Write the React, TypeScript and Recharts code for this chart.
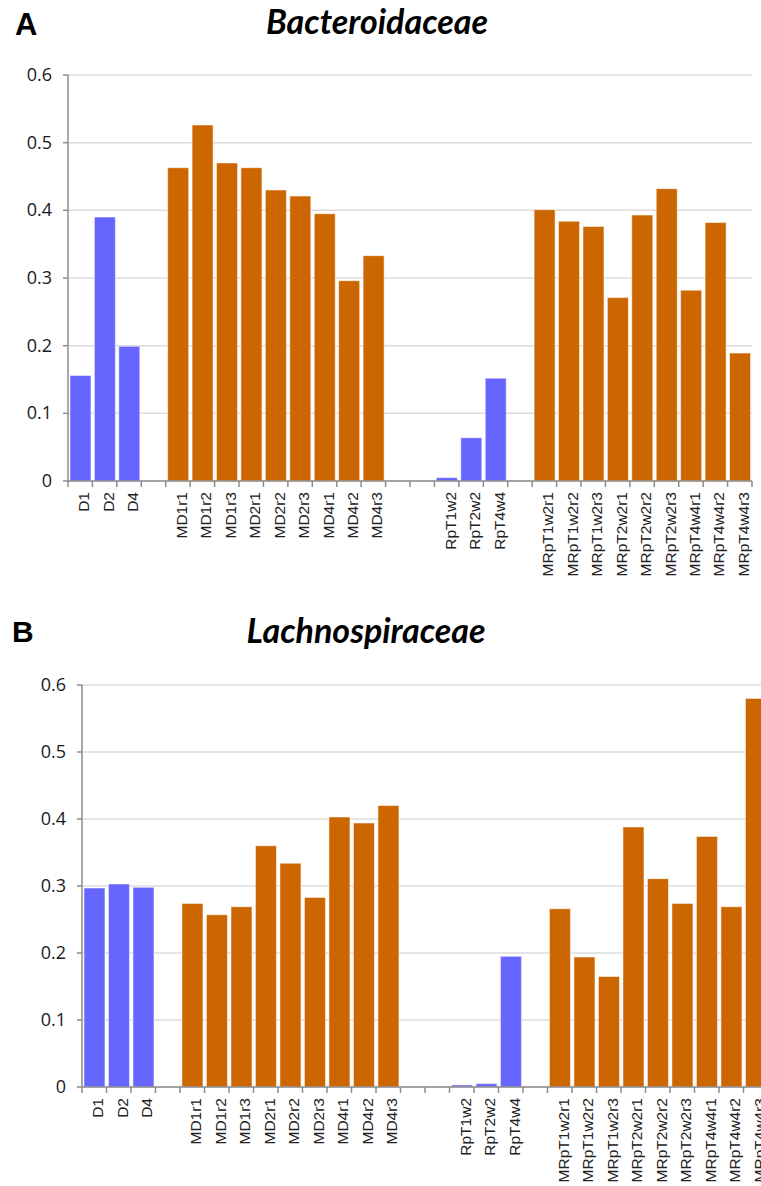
import React from 'react'
import { BarChart, Bar, Cell, XAxis, YAxis, CartesianGrid } from 'recharts'

const categories = [
  'D1', 'D2', 'D4', '',
  'MD1r1', 'MD1r2', 'MD1r3', 'MD2r1', 'MD2r2', 'MD2r3', 'MD4r1', 'MD4r2', 'MD4r3', '', '',
  'RpT1w2', 'RpT2w2', 'RpT4w4', '',
  'MRpT1w2r1', 'MRpT1w2r2', 'MRpT1w2r3', 'MRpT2w2r1', 'MRpT2w2r2', 'MRpT2w2r3', 'MRpT4w4r1', 'MRpT4w4r2', 'MRpT4w4r3',
]

const bacteroidaceae = [
  0.156, 0.390, 0.199, null,
  0.463, 0.526, 0.470, 0.463, 0.430, 0.421, 0.395, 0.296, 0.333, null, null,
  0.005, 0.064, 0.152, null,
  0.401, 0.384, 0.376, 0.271, 0.393, 0.432, 0.282, 0.382, 0.189,
]

const lachnospiraceae = [
  0.297, 0.303, 0.298, null,
  0.274, 0.257, 0.269, 0.360, 0.334, 0.283, 0.403, 0.394, 0.420, null, null,
  0.003, 0.005, 0.195, null,
  0.266, 0.194, 0.165, 0.388, 0.311, 0.274, 0.374, 0.269, 0.580,
]

const yTicks = [0, 0.1, 0.2, 0.3, 0.4, 0.5, 0.6]

const BLUE = '#6666ff'
const ORANGE = '#cc6600'
const AXIS = '#8c8c8c'

// MD / MRp samples are orange, D / Rp samples blue
const colorFor = (name: string) => (name.startsWith('M') ? ORANGE : BLUE)

function XTick(props: any) {
  const { x, y, payload, index, half } = props
  const label: string = payload.value.startsWith('_') ? '' : payload.value
  const h = payload.offset ?? half
  const top = y - 11
  return (
    <g>
      <line x1={x - h} x2={x - h} y1={top} y2={top + 6} stroke={AXIS} strokeWidth={1.5} />
      {index === categories.length - 1 && (
        <line x1={x + h} x2={x + h} y1={top} y2={top + 6} stroke={AXIS} strokeWidth={1.5} />
      )}
      <text
        transform={`translate(${x},${y}) rotate(-90)`}
        textAnchor="end"
        dy={9}
        fontSize={15.5}
        fontFamily="'Liberation Sans', Arial, sans-serif"
        fill="#222"
      >
        {label}
      </text>
    </g>
  )
}

function YTick(props: any) {
  const { x, y, payload } = props
  return (
    <text x={x} y={y} dy={6} textAnchor="end" fontSize={18} fontFamily="'Open Sans', sans-serif" fill="#1a1a1a">
      {String(payload.value)}
    </text>
  )
}

function Panel({ values, width, height, margin, plotWidth }: any) {
  const data = categories.map((c, i) => ({ cat: c || `_${i}`, value: values[i] }))
  const half = plotWidth / categories.length / 2
  return (
    <BarChart width={width} height={height} data={data} margin={margin} barCategoryGap="8%">
      <CartesianGrid vertical={false} stroke="#dcdcdc" strokeWidth={1.5} />
      <XAxis
        dataKey="cat"
        interval={0}
        height={110}
        tickLine={false}
        tickSize={6}
        tickMargin={5}
        axisLine={{ stroke: AXIS, strokeWidth: 1.5 }}
        tick={(p: any) => <XTick {...p} half={half} />}
      />
      <YAxis
        width={60}
        domain={[0, 0.6]}
        ticks={yTicks}
        tickSize={5}
        tickMargin={11}
        axisLine={{ stroke: AXIS, strokeWidth: 1.5 }}
        tickLine={{ stroke: AXIS, strokeWidth: 1.5 }}
        tick={(p: any) => <YTick {...p} />}
      />
      <Bar dataKey="value" isAnimationActive={false} stroke="#ffffff" strokeOpacity={0.5} strokeWidth={1}>
        {data.map((d) => (
          <Cell key={d.cat} fill={colorFor(d.cat)} />
        ))}
      </Bar>
    </BarChart>
  )
}

export default function App() {
  return (
    <div style={{ position: 'absolute', left: 0, top: 0, width: 761, height: 1186, overflow: 'hidden', background: '#fff' }}>
      <div style={{ position: 'absolute', left: 0, top: 0 }}>
        <Panel
          values={bacteroidaceae}
          width={761}
          height={600}
          margin={{ top: 75, right: 9, bottom: 9, left: 8 }}
          plotWidth={684}
        />
      </div>
      <div style={{ position: 'absolute', left: 0, top: 600 }}>
        <Panel
          values={lachnospiraceae}
          width={780}
          height={600}
          margin={{ top: 85, right: 12, bottom: 3, left: 22 }}
          plotWidth={686}
        />
      </div>
      <svg width={761} height={1186} style={{ position: 'absolute', left: 0, top: 0, pointerEvents: 'none' }}>
        <text x={15} y={35} fontSize={31} fontWeight="bold" fontFamily="'Liberation Sans', Arial, sans-serif" fill="#000">
          A
        </text>
        <text x={377} y={34} textAnchor="middle" fontSize={34} fontWeight="bold" fontStyle="italic" fontFamily="Lato, sans-serif" fill="#000">
          Bacteroidaceae
        </text>
        <text x={12} y={642} fontSize={30} fontWeight="bold" fontFamily="'Liberation Sans', Arial, sans-serif" fill="#000">
          B
        </text>
        <text x={366} y={643} textAnchor="middle" fontSize={34} fontWeight="bold" fontStyle="italic" fontFamily="Lato, sans-serif" fill="#000">
          Lachnospiraceae
        </text>
      </svg>
    </div>
  )
}
